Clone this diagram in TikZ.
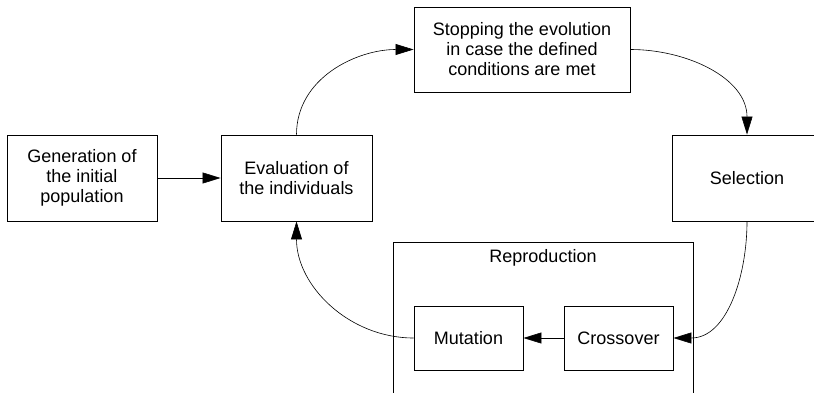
\documentclass[tikz,border=0pt]{standalone}
\usepackage{fontspec}
\setmainfont{Liberation Sans}
\usetikzlibrary{arrows.meta}

\begin{document}
\begin{tikzpicture}[x=1pt,y=1pt,
    box/.style={draw, line width=0.9pt, inner sep=0pt, align=center,
                font=\fontsize{18}{20}\selectfont},
    flow/.style={line width=0.6pt, -{Triangle[length=18pt,width=11pt]}}]
            \useasboundingbox (0,0) rectangle (814,392);

            % outer frame of the reproduction step
            \draw [line width=0.9pt] (393,-20) rectangle (693,150);
            \node [font=\fontsize{18}{20}\selectfont] (repro) at (543,134) {Reproduction};

            \node [box, minimum width=150pt, minimum height=86pt] (gen) at (82,214) {Generation of\\the initial\\population};
            \node [box, minimum width=151pt, minimum height=86pt] (eval) at (296.5,214) {Evaluation of\\the individuals};
            \node [box, minimum width=216pt, minimum height=85pt] (stop) at (522,342.5) {Stopping the evolution\\in case the defined\\conditions are met};
            \node [box, minimum width=150pt, minimum height=86pt] (sel) at (747,214) {Selection};
            \node [box, minimum width=109pt, minimum height=64pt] (mut) at (468.5,54) {Mutation};
            \node [box, minimum width=109pt, minimum height=64pt] (cross) at (618.5,54) {Crossover};

            \draw [flow] (gen) -- (eval);
            \draw [flow] (eval.north) to[out=90, in=180] (stop.west);
            \draw [flow] (stop.east) to[out=0, in=90] (sel.north);
            \draw [flow] (sel.south) to[out=-90, in=0] (cross.east);
            \draw [flow] (cross) -- (mut);
            \draw [flow] (mut.west) to[out=180, in=-90] (eval.south);
    \end{tikzpicture}
\end{document}
